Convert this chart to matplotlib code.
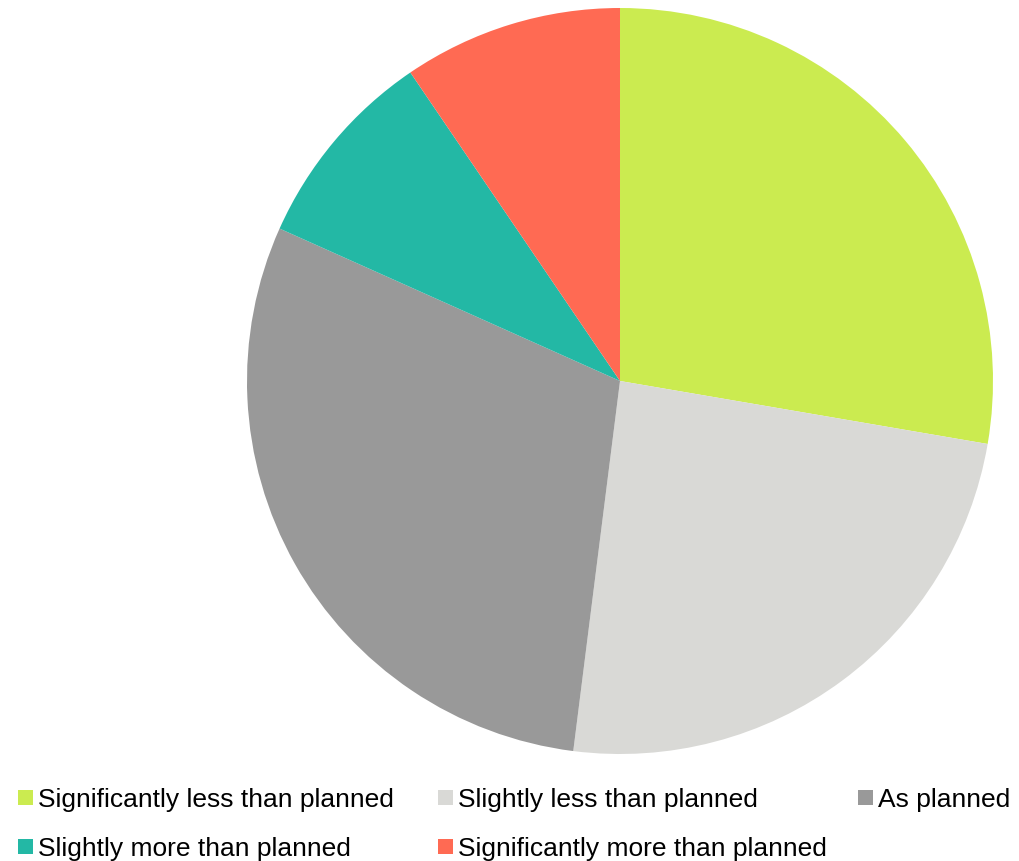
import matplotlib
matplotlib.use('Agg')
import matplotlib.pyplot as plt
from matplotlib.patches import Rectangle

# shares of each answer (percent)
categorias = ['Significantly less than planned', 'Slightly less than planned', 'As planned',
              'Slightly more than planned', 'Significantly more than planned']
valores = [27.7, 24.3, 29.7, 8.8, 9.5]
colores = ['#CBEB50', '#D9D9D6', '#999999', '#23B8A5', '#FF6A53']

plt.rcParams['font.family'] = ['Liberation Sans', 'DejaVu Sans']

W, H = 1020, 862
fig = plt.figure(figsize=(W / 100, H / 100), dpi=100)

# pie: centro (620, 382) px, radio 373 px
cx, cy, r = 620, 382, 373
ax = fig.add_axes([(cx - r) / W, (H - cy - r) / H, 2 * r / W, 2 * r / H])
ax.pie(valores, colors=colores, startangle=90, counterclock=False,
       radius=1, wedgeprops=dict(linewidth=0))
ax.set_xlim(-1, 1)
ax.set_ylim(-1, 1)
ax.set_aspect('equal')
ax.axis('off')

# leyenda manual en dos filas
posiciones = [(18, 798), (438, 798), (858, 798), (18, 847), (438, 847)]
for (x, y), nombre, color in zip(posiciones, categorias, colores):
    fig.patches.append(Rectangle((x / W, (H - y - 7.5) / H), 15 / W, 15 / H,
                                 transform=fig.transFigure, facecolor=color,
                                 edgecolor='none'))
    fig.text((x + 20) / W, (H - y - 2) / H, nombre, fontsize=19, va='center',
             ha='left', color='#000000')

fig.savefig('out.png', dpi=100)
